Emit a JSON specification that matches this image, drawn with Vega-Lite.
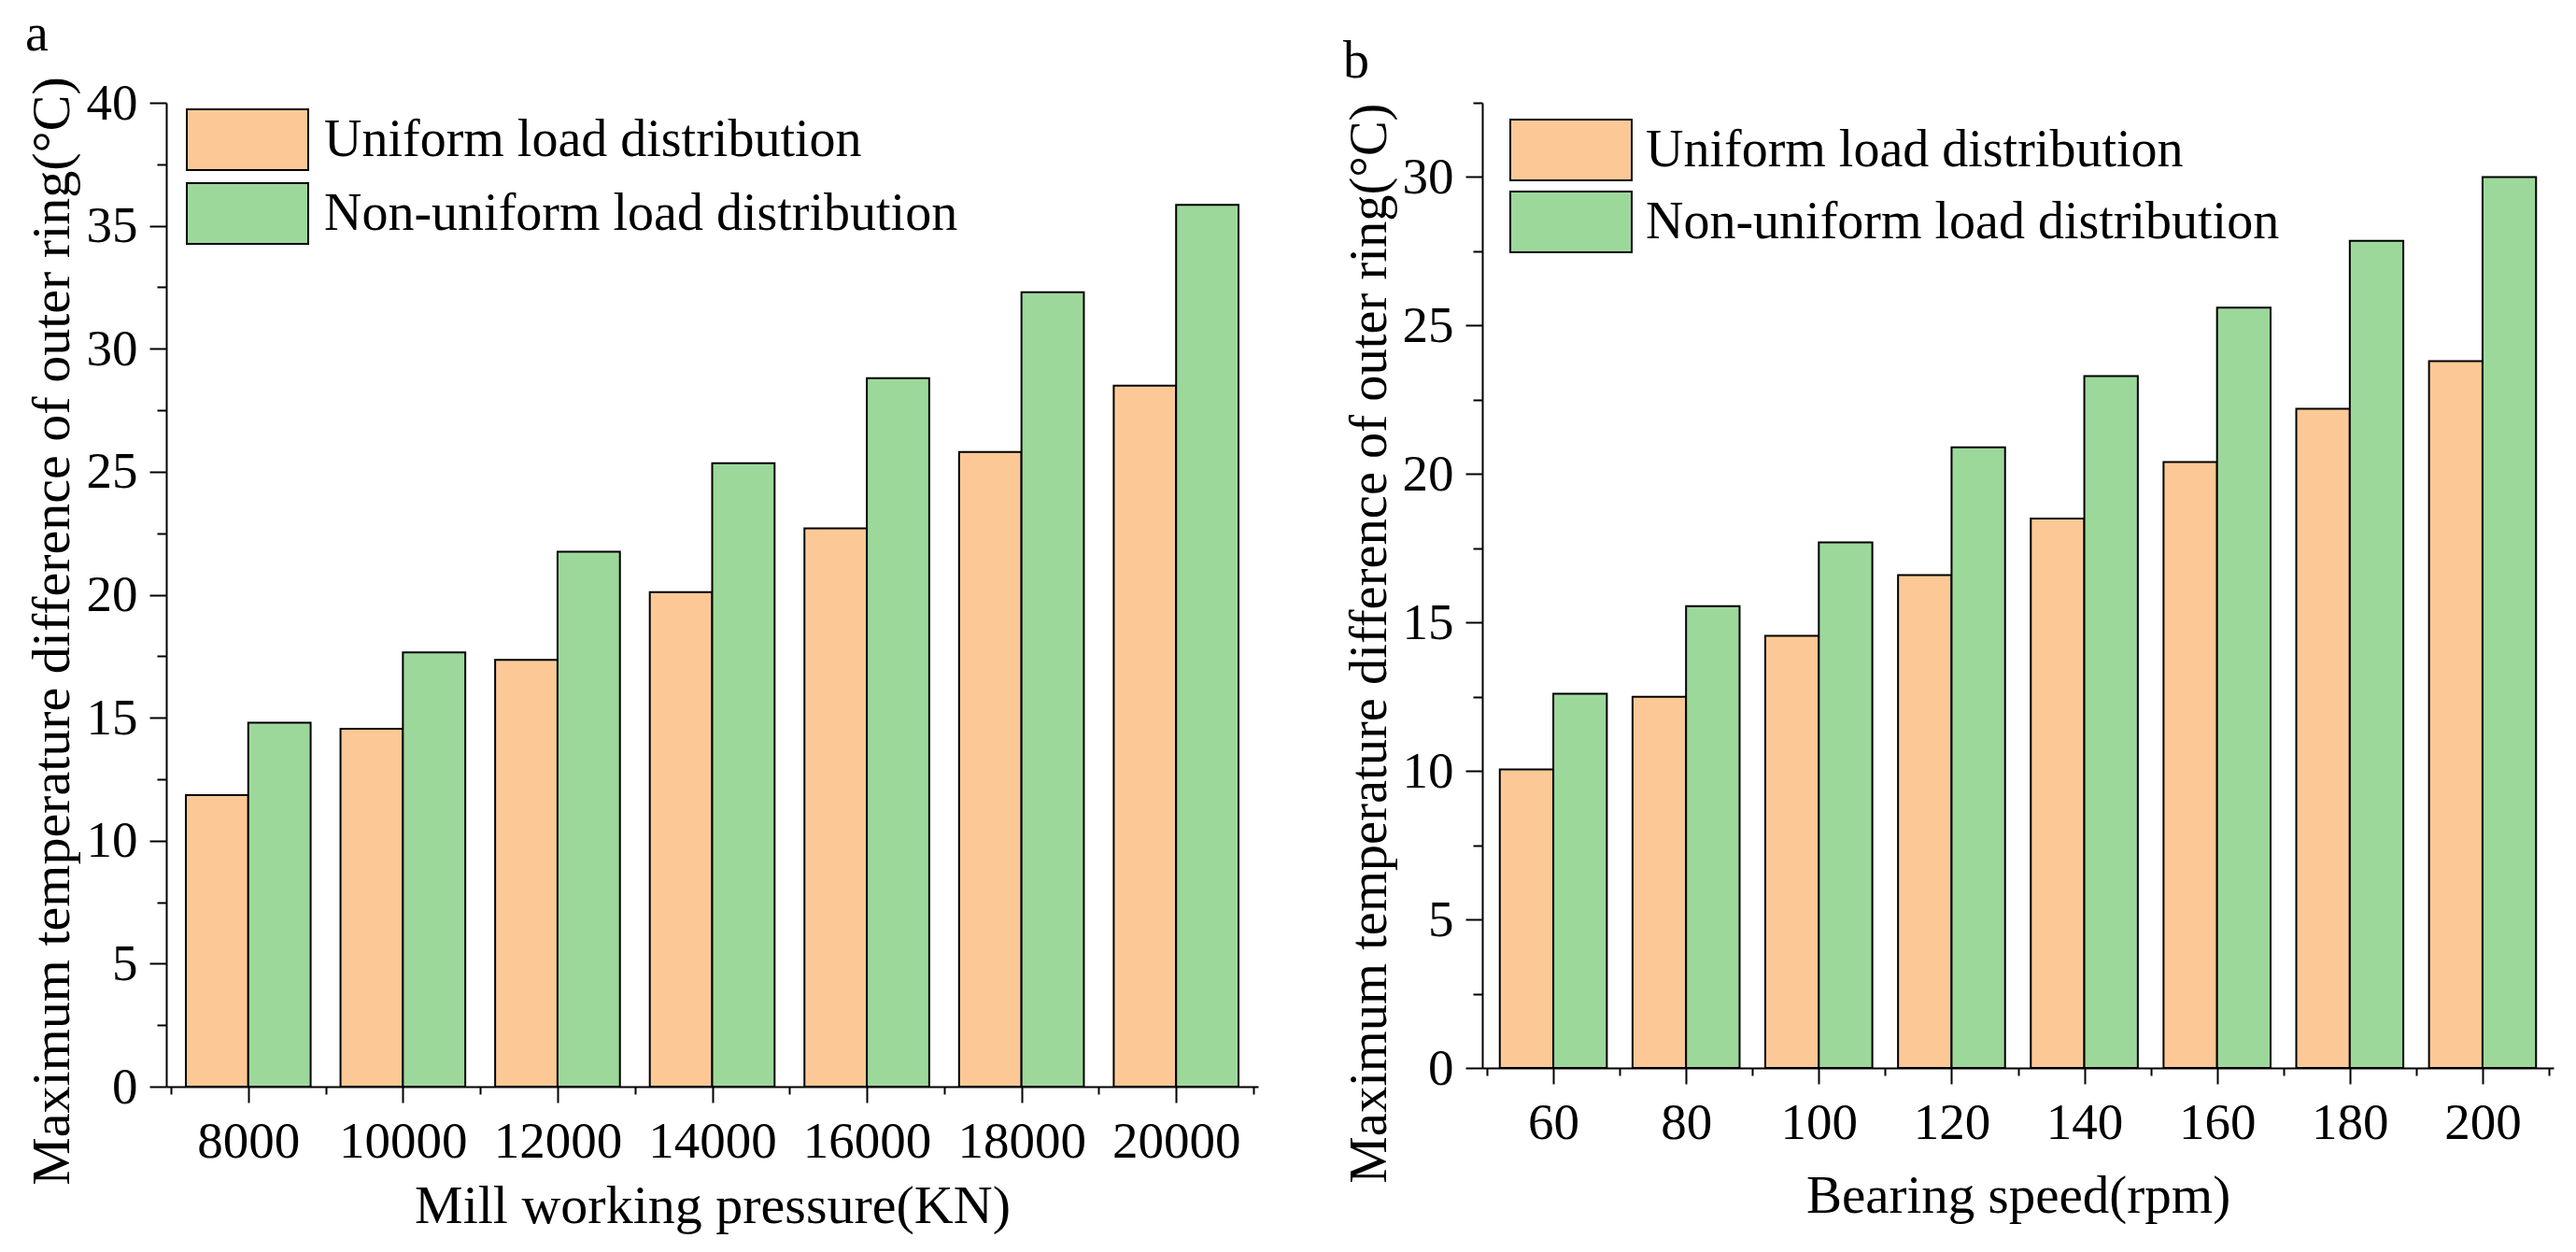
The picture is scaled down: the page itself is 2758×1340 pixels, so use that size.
{
  "$schema": "https://vega.github.io/schema/vega-lite/v6.json",
  "padding": {"left": 27, "top": 8, "right": 5, "bottom": 5},
  "background": "white",
  "datasets": {
    "pressure": [
      {"p": 8000, "s": "Uniform load distribution", "v": 11.85},
      {"p": 8000, "s": "Non-uniform load distribution", "v": 14.8},
      {"p": 10000, "s": "Uniform load distribution", "v": 14.55},
      {"p": 10000, "s": "Non-uniform load distribution", "v": 17.65},
      {"p": 12000, "s": "Uniform load distribution", "v": 17.35},
      {"p": 12000, "s": "Non-uniform load distribution", "v": 21.75},
      {"p": 14000, "s": "Uniform load distribution", "v": 20.1},
      {"p": 14000, "s": "Non-uniform load distribution", "v": 25.35},
      {"p": 16000, "s": "Uniform load distribution", "v": 22.7},
      {"p": 16000, "s": "Non-uniform load distribution", "v": 28.8},
      {"p": 18000, "s": "Uniform load distribution", "v": 25.8},
      {"p": 18000, "s": "Non-uniform load distribution", "v": 32.3},
      {"p": 20000, "s": "Uniform load distribution", "v": 28.5},
      {"p": 20000, "s": "Non-uniform load distribution", "v": 35.85}
    ],
    "speed": [
      {"r": 60, "s": "Uniform load distribution", "v": 10.05},
      {"r": 60, "s": "Non-uniform load distribution", "v": 12.6},
      {"r": 80, "s": "Uniform load distribution", "v": 12.5},
      {"r": 80, "s": "Non-uniform load distribution", "v": 15.55},
      {"r": 100, "s": "Uniform load distribution", "v": 14.55},
      {"r": 100, "s": "Non-uniform load distribution", "v": 17.7},
      {"r": 120, "s": "Uniform load distribution", "v": 16.6},
      {"r": 120, "s": "Non-uniform load distribution", "v": 20.9},
      {"r": 140, "s": "Uniform load distribution", "v": 18.5},
      {"r": 140, "s": "Non-uniform load distribution", "v": 23.3},
      {"r": 160, "s": "Uniform load distribution", "v": 20.4},
      {"r": 160, "s": "Non-uniform load distribution", "v": 25.6},
      {"r": 180, "s": "Uniform load distribution", "v": 22.2},
      {"r": 180, "s": "Non-uniform load distribution", "v": 27.85},
      {"r": 200, "s": "Uniform load distribution", "v": 23.8},
      {"r": 200, "s": "Non-uniform load distribution", "v": 30.0}
    ]
  },
  "bounds": "flush",
  "spacing": 240,
  "resolve": {"scale": {"color": "independent"}},
  "hconcat": [
    {
      "width": 1169,
      "height": 1053,
      "title": {"text": "a", "anchor": "start", "frame": "bounds", "font": "Liberation Serif", "fontSize": 56, "fontWeight": "normal", "color": "#000", "baseline": "alphabetic", "offset": -28},
      "data": {"name": "pressure"},
      "encoding": {
        "x": {
          "field": "p", "type": "quantitative",
          "scale": {"domain": [7000, 21000], "nice": false, "zero": false},
          "axis": {
            "values": [7000, 8000, 9000, 10000, 11000, 12000, 13000, 14000, 15000, 16000, 17000, 18000, 19000, 20000, 21000],
            "format": "d",
            "labelExpr": "datum.value % 2000 === 0 ? datum.label : ''",
            "tickSize": 17,
            "tickDash": {"condition": {"test": "datum.value % 2000 !== 0", "value": [8, 60]}, "value": [40, 0]},
            "labelBaseline": "alphabetic",
            "labelPadding": 58,
            "title": "Mill working pressure(KN)",
            "titleY": 145,
            "titleBaseline": "alphabetic",
            "titleFontSize": 58
          }
        },
        "y": {
          "field": "v", "type": "quantitative",
          "scale": {"domain": [0, 40], "nice": false},
          "axis": {
            "values": [0, 2.5, 5, 7.5, 10, 12.5, 15, 17.5, 20, 22.5, 25, 27.5, 30, 32.5, 35, 37.5, 40],
            "labelExpr": "datum.value % 5 === 0 ? datum.label : ''",
            "tickSize": 18,
            "tickDash": {"condition": {"test": "datum.value % 5 !== 0", "value": [10, 60]}, "value": [40, 0]},
            "labelPadding": 13,
            "title": "Maximum temperature difference of outer ring(°C)",
            "titleX": -105,
            "titleY": 565,
            "titleAngle": -90,
            "titleAlign": "center",
            "titleBaseline": "alphabetic",
            "titleFontSize": 58
          }
        },
        "color": {
          "field": "s", "type": "nominal",
          "scale": {"domain": ["Uniform load distribution", "Non-uniform load distribution"], "range": ["#FCC996", "#9DD89B"]},
          "legend": {
            "title": null, "orient": "none", "legendX": 53.5, "legendY": 6,
            "padding": 0, "rowPadding": 6,
            "symbolType": "M-2,-1H2V1H-2Z", "symbolSize": 4225,
            "symbolStrokeColor": "#000", "symbolStrokeWidth": 2, "symbolOpacity": 1,
            "labelFont": "Liberation Serif", "labelFontSize": 56, "labelColor": "#000", "labelOffset": 48.5,
            "labelLimit": 0
          }
        }
      },
      "layer": [
        {
          "transform": [{"filter": "datum.s === 'Uniform load distribution'"}],
          "mark": {"type": "bar", "width": 66.8, "xOffset": -33.4, "stroke": "#000", "strokeWidth": 2, "opacity": 1}
        },
        {
          "transform": [{"filter": "datum.s === 'Non-uniform load distribution'"}],
          "mark": {"type": "bar", "width": 66.8, "xOffset": 33.4, "stroke": "#000", "strokeWidth": 2, "opacity": 1}
        }
      ]
    },
    {
      "width": 1147,
      "height": 1033,
      "title": {"text": "b", "anchor": "start", "frame": "bounds", "font": "Liberation Serif", "fontSize": 56, "fontWeight": "normal", "color": "#000", "baseline": "alphabetic", "offset": -56},
      "data": {"name": "speed"},
      "encoding": {
        "x": {
          "field": "r", "type": "quantitative",
          "scale": {"domain": [50, 210], "nice": false, "zero": false},
          "axis": {
            "values": [50, 60, 70, 80, 90, 100, 110, 120, 130, 140, 150, 160, 170, 180, 190, 200, 210],
            "format": "d",
            "labelExpr": "datum.value % 20 === 0 ? datum.label : ''",
            "tickSize": 17,
            "tickDash": {"condition": {"test": "datum.value % 20 !== 0", "value": [8, 60]}, "value": [40, 0]},
            "labelBaseline": "alphabetic",
            "labelPadding": 58,
            "title": "Bearing speed(rpm)",
            "titleY": 154,
            "titleBaseline": "alphabetic",
            "titleFontSize": 57
          }
        },
        "y": {
          "field": "v", "type": "quantitative",
          "scale": {"domain": [0, 32.5], "nice": false},
          "axis": {
            "values": [0, 2.5, 5, 7.5, 10, 12.5, 15, 17.5, 20, 22.5, 25, 27.5, 30, 32.5],
            "labelExpr": "datum.value % 5 === 0 ? datum.label : ''",
            "tickSize": 18,
            "tickDash": {"condition": {"test": "datum.value % 5 !== 0", "value": [10, 60]}, "value": [40, 0]},
            "labelPadding": 13,
            "title": "Maximum temperature difference of outer ring(°C)",
            "titleX": -104,
            "titleY": 578,
            "titleAngle": -90,
            "titleAlign": "center",
            "titleBaseline": "alphabetic",
            "titleFontSize": 56.5
          }
        },
        "color": {
          "field": "s", "type": "nominal",
          "scale": {"domain": ["Uniform load distribution", "Non-uniform load distribution"], "range": ["#FCC996", "#9DD89B"]},
          "legend": {
            "title": null, "orient": "none", "legendX": 61.5, "legendY": 17,
            "padding": 0, "rowPadding": 4,
            "symbolType": "M-2,-1H2V1H-2Z", "symbolSize": 4225,
            "symbolStrokeColor": "#000", "symbolStrokeWidth": 2, "symbolOpacity": 1,
            "labelFont": "Liberation Serif", "labelFontSize": 56, "labelColor": "#000", "labelOffset": 46.5,
            "labelLimit": 0
          }
        }
      },
      "layer": [
        {
          "transform": [{"filter": "datum.s === 'Uniform load distribution'"}],
          "mark": {"type": "bar", "width": 57.3, "xOffset": -28.65, "stroke": "#000", "strokeWidth": 2, "opacity": 1}
        },
        {
          "transform": [{"filter": "datum.s === 'Non-uniform load distribution'"}],
          "mark": {"type": "bar", "width": 57.3, "xOffset": 28.65, "stroke": "#000", "strokeWidth": 2, "opacity": 1}
        }
      ]
    }
  ],
  "config": {
    "view": {"stroke": null},
    "font": "Liberation Serif",
    "axis": {
      "grid": false,
      "domainColor": "#000",
      "domainWidth": 2,
      "tickColor": "#000",
      "tickWidth": 2,
      "labelFont": "Liberation Serif",
      "labelFontSize": 55,
      "labelColor": "#000",
      "labelOverlap": false,
      "labelFlush": false,
      "titleFont": "Liberation Serif",
      "titleFontWeight": "normal",
      "titleColor": "#000",
      "titlePadding": 0
    }
  }
}
